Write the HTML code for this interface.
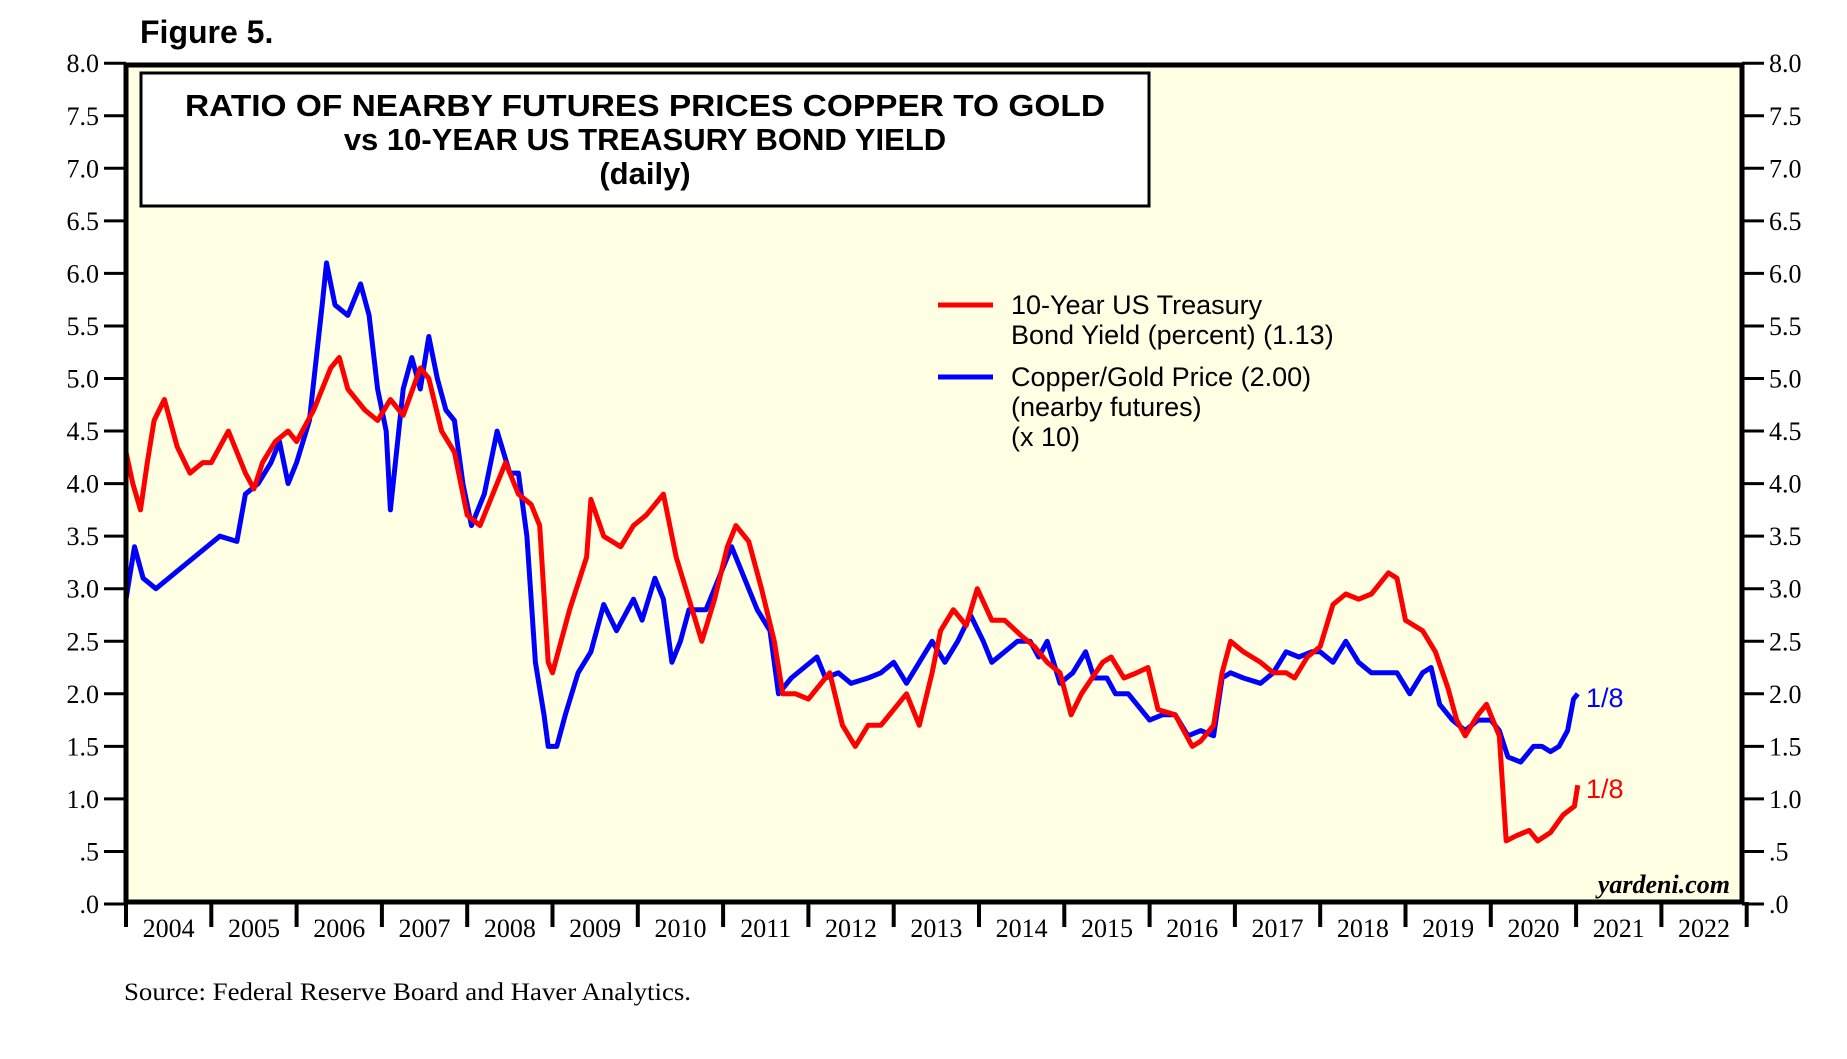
<!DOCTYPE html>
<html><head><meta charset="utf-8"><style>
html,body{margin:0;padding:0;background:#fff;}
svg{display:block;}
</style></head><body>
<svg id="chart" width="1847" height="1059" xmlns="http://www.w3.org/2000/svg">
<text x="140" y="43" font-family="Liberation Sans, sans-serif" font-weight="bold" font-size="32">Figure 5.</text>
<rect x="126" y="65" width="1616" height="837" fill="#ffffe3"/>
<g id="series"></g>
<rect x="126" y="65" width="1616" height="837" fill="none" stroke="#000" stroke-width="5"/>
<g id="axes"></g>
<rect x="141" y="73" width="1008" height="133" fill="#fff" stroke="#000" stroke-width="3"/>
<g font-family="Liberation Sans, sans-serif" font-weight="bold" font-size="31" text-anchor="middle">
<text x="645" y="116" textLength="920" lengthAdjust="spacingAndGlyphs">RATIO OF NEARBY FUTURES PRICES COPPER TO GOLD</text>
<text x="645" y="150">vs 10-YEAR US TREASURY BOND YIELD</text>
<text x="645" y="184">(daily)</text>
</g>
<g font-family="Liberation Sans, sans-serif" font-size="27">
<line x1="938" y1="305" x2="993" y2="305" stroke="#f00" stroke-width="5"/>
<text x="1011" y="314">10-Year US Treasury</text>
<text x="1011" y="344">Bond Yield (percent) (1.13)</text>
<line x1="938" y1="377" x2="993" y2="377" stroke="#00f" stroke-width="5"/>
<text x="1011" y="386">Copper/Gold Price (2.00)</text>
<text x="1011" y="416">(nearby futures)</text>
<text x="1011" y="446">(x 10)</text>
</g>
<text x="1586" y="707" fill="#00f" font-family="Liberation Sans, sans-serif" font-size="27">1/8</text>
<text x="1586" y="798" fill="#f00" font-family="Liberation Sans, sans-serif" font-size="27">1/8</text>
<text x="1730" y="893" text-anchor="end" font-family="Liberation Serif, serif" font-style="italic" font-weight="bold" font-size="26">yardeni.com</text>
<text x="124" y="1000" font-family="Liberation Serif, serif" font-size="25" textLength="567" lengthAdjust="spacingAndGlyphs">Source: Federal Reserve Board and Haver Analytics.</text>
</svg>
<script>
const yTickVals=[0,0.5,1,1.5,2,2.5,3,3.5,4,4.5,5,5.5,6,6.5,7,7.5,8];
const yTickLabels=[".0",".5","1.0","1.5","2.0","2.5","3.0","3.5","4.0","4.5","5.0","5.5","6.0","6.5","7.0","7.5","8.0"];
const years=[2004,2005,2006,2007,2008,2009,2010,2011,2012,2013,2014,2015,2016,2017,2018,2019,2020,2021,2022];
const redDates=[2004.0,2004.08,2004.17,2004.25,2004.33,2004.45,2004.6,2004.75,2004.9,2005.0,2005.2,2005.4,2005.5,2005.6,2005.75,2005.9,2006.0,2006.2,2006.4,2006.5,2006.6,2006.8,2006.95,2007.1,2007.25,2007.45,2007.55,2007.7,2007.85,2008.0,2008.15,2008.3,2008.45,2008.6,2008.75,2008.85,2008.95,2009.0,2009.2,2009.4,2009.45,2009.6,2009.8,2009.95,2010.1,2010.3,2010.45,2010.6,2010.75,2010.9,2011.05,2011.15,2011.3,2011.45,2011.6,2011.7,2011.85,2012.0,2012.1,2012.25,2012.4,2012.55,2012.7,2012.85,2013.0,2013.15,2013.3,2013.45,2013.55,2013.7,2013.85,2013.98,2014.15,2014.3,2014.5,2014.65,2014.8,2014.95,2015.08,2015.2,2015.45,2015.55,2015.7,2015.85,2015.98,2016.1,2016.3,2016.5,2016.6,2016.75,2016.85,2016.95,2017.1,2017.3,2017.45,2017.6,2017.7,2017.85,2018.0,2018.15,2018.3,2018.45,2018.6,2018.8,2018.9,2019.0,2019.2,2019.35,2019.5,2019.6,2019.7,2019.85,2019.95,2020.1,2020.18,2020.3,2020.45,2020.55,2020.7,2020.85,2020.98,2021.02];
const redValues=[4.3,4.0,3.75,4.2,4.6,4.8,4.35,4.1,4.2,4.2,4.5,4.1,3.95,4.2,4.4,4.5,4.4,4.7,5.1,5.2,4.9,4.7,4.6,4.8,4.65,5.1,5.0,4.5,4.3,3.7,3.6,3.9,4.2,3.9,3.8,3.6,2.3,2.2,2.8,3.3,3.85,3.5,3.4,3.6,3.7,3.9,3.3,2.9,2.5,2.9,3.4,3.6,3.45,3.0,2.5,2.0,2.0,1.95,2.05,2.2,1.7,1.5,1.7,1.7,1.85,2.0,1.7,2.2,2.6,2.8,2.65,3.0,2.7,2.7,2.55,2.45,2.3,2.2,1.8,2.0,2.3,2.35,2.15,2.2,2.25,1.85,1.8,1.5,1.55,1.7,2.2,2.5,2.4,2.3,2.2,2.2,2.15,2.35,2.45,2.85,2.95,2.9,2.95,3.15,3.1,2.7,2.6,2.4,2.05,1.75,1.6,1.8,1.9,1.6,0.6,0.65,0.7,0.6,0.68,0.85,0.93,1.13];
const blueDates=[2004.0,2004.1,2004.2,2004.35,2004.5,2004.65,2004.8,2004.95,2005.1,2005.3,2005.4,2005.55,2005.7,2005.8,2005.9,2006.0,2006.15,2006.3,2006.35,2006.45,2006.6,2006.75,2006.85,2006.95,2007.05,2007.1,2007.25,2007.35,2007.45,2007.55,2007.65,2007.75,2007.85,2007.95,2008.05,2008.2,2008.35,2008.5,2008.6,2008.7,2008.8,2008.9,2008.95,2009.05,2009.15,2009.3,2009.45,2009.6,2009.75,2009.95,2010.05,2010.2,2010.3,2010.4,2010.5,2010.6,2010.8,2010.95,2011.1,2011.25,2011.4,2011.55,2011.65,2011.8,2011.95,2012.1,2012.2,2012.35,2012.5,2012.7,2012.85,2013.0,2013.15,2013.3,2013.45,2013.6,2013.75,2013.9,2014.05,2014.15,2014.3,2014.45,2014.6,2014.7,2014.8,2014.95,2015.1,2015.25,2015.35,2015.5,2015.6,2015.75,2015.9,2016.0,2016.15,2016.3,2016.45,2016.6,2016.75,2016.85,2016.95,2017.1,2017.3,2017.45,2017.6,2017.75,2017.9,2018.0,2018.15,2018.3,2018.45,2018.6,2018.75,2018.9,2019.05,2019.2,2019.3,2019.4,2019.55,2019.7,2019.85,2020.0,2020.1,2020.2,2020.35,2020.5,2020.6,2020.7,2020.8,2020.9,2020.97,2021.02];
const blueValues=[2.9,3.4,3.1,3.0,3.1,3.2,3.3,3.4,3.5,3.45,3.9,4.0,4.2,4.4,4.0,4.2,4.6,5.7,6.1,5.7,5.6,5.9,5.6,4.9,4.5,3.75,4.9,5.2,4.9,5.4,5.0,4.7,4.6,4.0,3.6,3.9,4.5,4.1,4.1,3.5,2.3,1.8,1.5,1.5,1.8,2.2,2.4,2.85,2.6,2.9,2.7,3.1,2.9,2.3,2.5,2.8,2.8,3.1,3.4,3.1,2.8,2.6,2.0,2.15,2.25,2.35,2.15,2.2,2.1,2.15,2.2,2.3,2.1,2.3,2.5,2.3,2.5,2.75,2.5,2.3,2.4,2.5,2.5,2.35,2.5,2.1,2.2,2.4,2.15,2.15,2.0,2.0,1.85,1.75,1.8,1.8,1.6,1.65,1.6,2.15,2.2,2.15,2.1,2.2,2.4,2.35,2.4,2.4,2.3,2.5,2.3,2.2,2.2,2.2,2.0,2.2,2.25,1.9,1.75,1.65,1.75,1.75,1.65,1.4,1.35,1.5,1.5,1.45,1.5,1.65,1.95,2.0];

const X0=126,YW=85.3,Y0=904,YS=105.1;
function xs(t){return X0+(t-2004)*YW;}
function ys(v){return Y0-v*YS;}
const NS='http://www.w3.org/2000/svg';
const axes=document.getElementById('axes');
function mk(tag,attrs,parent){const e=document.createElementNS(NS,tag);for(const k in attrs)e.setAttribute(k,attrs[k]);parent.appendChild(e);return e;}
yTickVals.forEach((v,i)=>{
  const y=ys(v);
  const l=mk('line',{x1:104,x2:126,y1:y,y2:y,stroke:'#000','stroke-width':3},axes);
  
  
  const r=mk('line',{x1:1742,x2:1764,y1:y,y2:y,stroke:'#000','stroke-width':3},axes);
  
  
  const t=mk('text',{x:99,y:y+9,'text-anchor':'end','font-family':'Liberation Serif, serif','font-size':26},axes);
  t.textContent=yTickLabels[i];
  
  
  const t2=mk('text',{x:1769,y:y+9,'font-family':'Liberation Serif, serif','font-size':26},axes);
  t2.textContent=yTickLabels[i];
  
  
});
years.forEach((yr)=>{
  const x=xs(yr);
  const l=mk('line',{x1:x,x2:x,y1:902,y2:927,stroke:'#000','stroke-width':4},axes);
  
  
  const t=mk('text',{x:xs(yr+0.5),y:937,'text-anchor':'middle','font-family':'Liberation Serif, serif','font-size':26},axes);
  t.textContent=String(yr);
  
  
});
{const x=xs(2023);const l=mk('line',{x1:x,x2:x,y1:902,y2:927,stroke:'#000','stroke-width':4},axes);

}
const sg=document.getElementById('series');
function path(d,v){return d.map((t,i)=>(i?'L':'M')+xs(t).toFixed(1)+','+ys(v[i]).toFixed(1)).join('');}
const pb=mk('path',{d:path(blueDates,blueValues),fill:'none',stroke:'#00f','stroke-width':5,'stroke-linejoin':'round'},sg);


const pr=mk('path',{d:path(redDates,redValues),fill:'none',stroke:'#f00','stroke-width':5,'stroke-linejoin':'round'},sg);


</script>
</body></html>
